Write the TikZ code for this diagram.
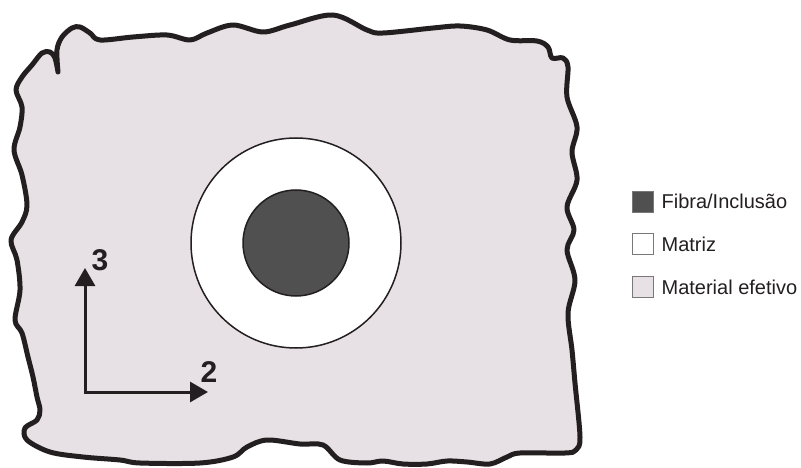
\documentclass[tikz,border=0pt]{standalone}
\usepackage{fontspec}
\setmainfont{Liberation Sans}
\usepackage{tikz}
\usetikzlibrary{arrows.meta,positioning}
\definecolor{ink}{RGB}{35,31,32}
\definecolor{efetivo}{RGB}{231,224,228}
\definecolor{fibra}{RGB}{80,80,80}
\definecolor{keygray}{RGB}{120,120,120}
\tikzset{borda/.style={draw=ink,line width=5pt,fill=efetivo,line join=round},disco/.style={circle,draw=ink,line width=1.5pt,inner sep=0pt},eixo/.style={{Triangle[length=18pt,width=20pt]}-{Triangle[length=18pt,width=20pt]},draw=ink,line width=3pt},eixolbl/.style={font=\fontsize{30}{30}\selectfont\bfseries,text=ink,inner sep=0pt},chave/.style={draw=keygray,line width=0.8pt,minimum size=21pt,inner sep=0pt},chavelbl/.style={font=\fontsize{20}{20}\selectfont,text=ink,inner sep=0pt,anchor=west}}

\begin{document}
\begin{tikzpicture}[x=1pt,y=-1pt]
\useasboundingbox (0,0) rectangle (801,468);
% contorno irregular do material efetivo
\draw[borda] plot[smooth,tension=0.55] coordinates {(58,72) (57,50) (62,37) (72,28) (80,27) (90,33) (100,40) (133,37) (167,35) (190,40) (207,33) (233,25) (263,32) (290,25) (333,15) (367,30) (383,33) (433,28) (460,26) (487,30) (510,40) (537,41) (548,47) (552,58) (563,58) (568,67) (567,97) (577,127) (572,152) (577,180) (567,207) (574,230) (567,250) (575,280) (568,313) (572,350) (575,383) (580,437) (576,450) (565,453) (520,453) (507,457) (490,464) (467,462) (447,461) (427,464) (403,464) (383,461) (367,463) (340,460) (323,445) (300,444) (267,440) (247,447) (233,457) (200,463) (140,463) (120,460) (83,457) (50,452) (27,440) (25,428) (37,420) (40,410) (37,397) (33,377) (28,357) (22,333) (15,320) (20,290) (17,260) (11,240) (22,222) (27,205) (22,175) (14,150) (20,127) (22,107) (16,90) (22,77) (32,65) (42,53) (50,52) (55,58) (58,72)} -- cycle;
% matriz e fibra
\node[disco,fill=white,minimum size=210pt] (matriz) at (296,243) {};
\node[disco,fill=fibra,minimum size=106pt] (fibra) at (matriz.center) {};
% eixos
\coordinate (o) at (85,392);
\coordinate (e2) at (208,392);
\coordinate (e3) at (85,268);
\draw[eixo] (e3) -- (o) -- (e2);
\node[eixolbl] (l2) at (209,372) {2};
\node[eixolbl] (l3) at (100,260) {3};
% legenda
\node[chave,fill=fibra] (kf) at (642.5,201.5) {};
\node[chave,fill=white,below=21pt of kf] (km) {};
\node[chave,fill=efetivo,below=21pt of km] (ke) {};
\node[chavelbl,right=8pt of kf] (tf) {Fibra/Inclusão};
\node[chavelbl,right=8pt of km] (tm) {Matriz};
\node[chavelbl,right=8pt of ke] (te) {Material efetivo};
\end{tikzpicture}
\end{document}
